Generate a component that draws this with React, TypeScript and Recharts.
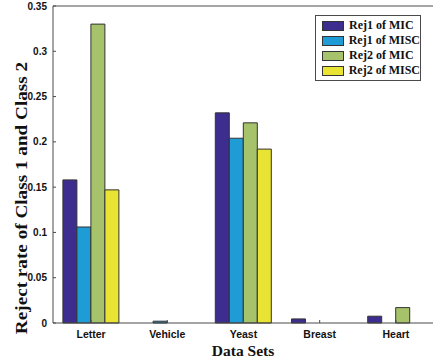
import { BarChart, Bar, XAxis, YAxis, Legend, ReferenceLine, Label } from "recharts";

const DATASETS = ["Letter", "Vehicle", "Yeast", "Breast", "Heart"];
const REJ1_MIC = [0.158, 0, 0.232, 0.0045, 0.0075];
const REJ1_MISC = [0.106, 0.002, 0.204, 0, 0];
const REJ2_MIC = [0.33, 0, 0.221, 0, 0.017];
const REJ2_MISC = [0.147, 0, 0.192, 0, 0];
const Y_TICKS = [0, 0.05, 0.1, 0.15, 0.2, 0.25, 0.3, 0.35];

const SERIES = [
  { key: "rej1Mic", name: "Rej1 of MIC", color: "#3d2d8e", values: REJ1_MIC },
  { key: "rej1Misc", name: "Rej1 of MISC", color: "#1f9bd6", values: REJ1_MISC },
  { key: "rej2Mic", name: "Rej2 of MIC", color: "#a6c36b", values: REJ2_MIC },
  { key: "rej2Misc", name: "Rej2 of MISC", color: "#e9e334", values: REJ2_MISC },
];

const data = DATASETS.map((name, i) => {
  const row: Record<string, string | number> = { name };
  SERIES.forEach((s) => (row[s.key] = s.values[i]));
  return row;
});

const AXIS = "#4a4a4a";
const SANS = "'Liberation Sans', Arial, sans-serif";
const SERIF = "'Liberation Serif', 'Times New Roman', serif";

const BottomTick = (props: any) => {
  const { x, y, payload } = props;
  return (
    <g>
      <line x1={x} y1={y - 11} x2={x} y2={y - 14} stroke={AXIS} />
      <text x={x} y={y} dy="0.35em" textAnchor="middle" fontFamily={SANS} fontWeight="bold" fontSize={10.5} fill="#111">
        {payload.value}
      </text>
    </g>
  );
};

const TopTick = (props: any) => {
  const { x, y } = props;
  return <line x1={x} y1={y} x2={x} y2={y + 3} stroke={AXIS} />;
};

const LeftTick = (props: any) => {
  const { x, y, payload } = props;
  return (
    <g>
      <line x1={x + 6} y1={y} x2={x + 9} y2={y} stroke={AXIS} />
      <text x={x} y={y} dy="0.35em" textAnchor="end" fontFamily={SANS} fontWeight="bold" fontSize={10} fill="#111">
        {String(payload.value)}
      </text>
    </g>
  );
};

const renderLegend = () => (
  <div
    style={{
      border: `1px solid ${AXIS}`,
      background: "#fff",
      padding: "2px 0 2px 6px",
      width: 106,
      boxSizing: "border-box",
    }}
  >
    {SERIES.map((s) => (
      <div key={s.key} style={{ display: "flex", alignItems: "center", height: 15 }}>
        <span
          style={{
            display: "inline-block",
            width: 22,
            height: 10,
            background: s.color,
            border: "1px solid #333",
            boxSizing: "border-box",
            marginRight: 5,
          }}
        />
        <span style={{ fontFamily: SERIF, fontWeight: "bold", fontSize: 12, color: "#111", whiteSpace: "nowrap" }}>
          {s.name}
        </span>
      </div>
    ))}
  </div>
);

export default function App() {
  return (
    <div style={{ position: "absolute", left: 0, top: 0, background: "#fff" }}>
      <BarChart
        width={433}
        height={363}
        data={data}
        margin={{ top: 6, right: -1, bottom: 0, left: 0 }}
        barCategoryGap="13%"
        barGap={0}
      >
        <XAxis
          dataKey="name"
          axisLine={{ stroke: AXIS }}
          tickLine={false}
          tickSize={0}
          tickMargin={11}
          tick={<BottomTick />}
          height={40}
          interval={0}
        >
          <Label
            content={() => (
              <text x={243} y={351} dy="0.35em" textAnchor="middle" fontFamily={SERIF} fontWeight="bold" fontSize={15.5} fill="#111">
                Data Sets
              </text>
            )}
          />
        </XAxis>
        <XAxis
          xAxisId="top"
          orientation="top"
          dataKey="name"
          height={0}
          axisLine={false}
          tickLine={false}
          tickSize={0}
          tickMargin={0}
          tick={<TopTick />}
          interval={0}
        />
        <YAxis
          width={53}
          domain={[0, 0.35]}
          ticks={Y_TICKS}
          axisLine={{ stroke: AXIS }}
          tickLine={false}
          tickSize={0}
          tickMargin={6}
          tick={<LeftTick />}
          interval={0}
        >
          <Label
            content={() => (
              <text
                x={0}
                y={0}
                dy="0.35em"
                textAnchor="middle"
                transform="translate(21 198) rotate(-90) scale(1.2 1)"
                fontFamily={SERIF}
                fontWeight="bold"
                fontSize={16}
                fill="#111"
              >
                Reject rate of Class 1 and Class 2
              </text>
            )}
          />
        </YAxis>
        <ReferenceLine y={0.35} stroke={AXIS} />
        {SERIES.map((s) => (
          <Bar
            key={s.key}
            dataKey={s.key}
            name={s.name}
            fill={s.color}
            stroke="#333"
            strokeWidth={1}
            isAnimationActive={false}
          />
        ))}
        <Legend
          layout="vertical"
          align="center"
          verticalAlign="middle"
          content={renderLegend}
          wrapperStyle={{ position: "absolute", left: 315, top: 15, width: 106 }}
        />
      </BarChart>
    </div>
  );
}
